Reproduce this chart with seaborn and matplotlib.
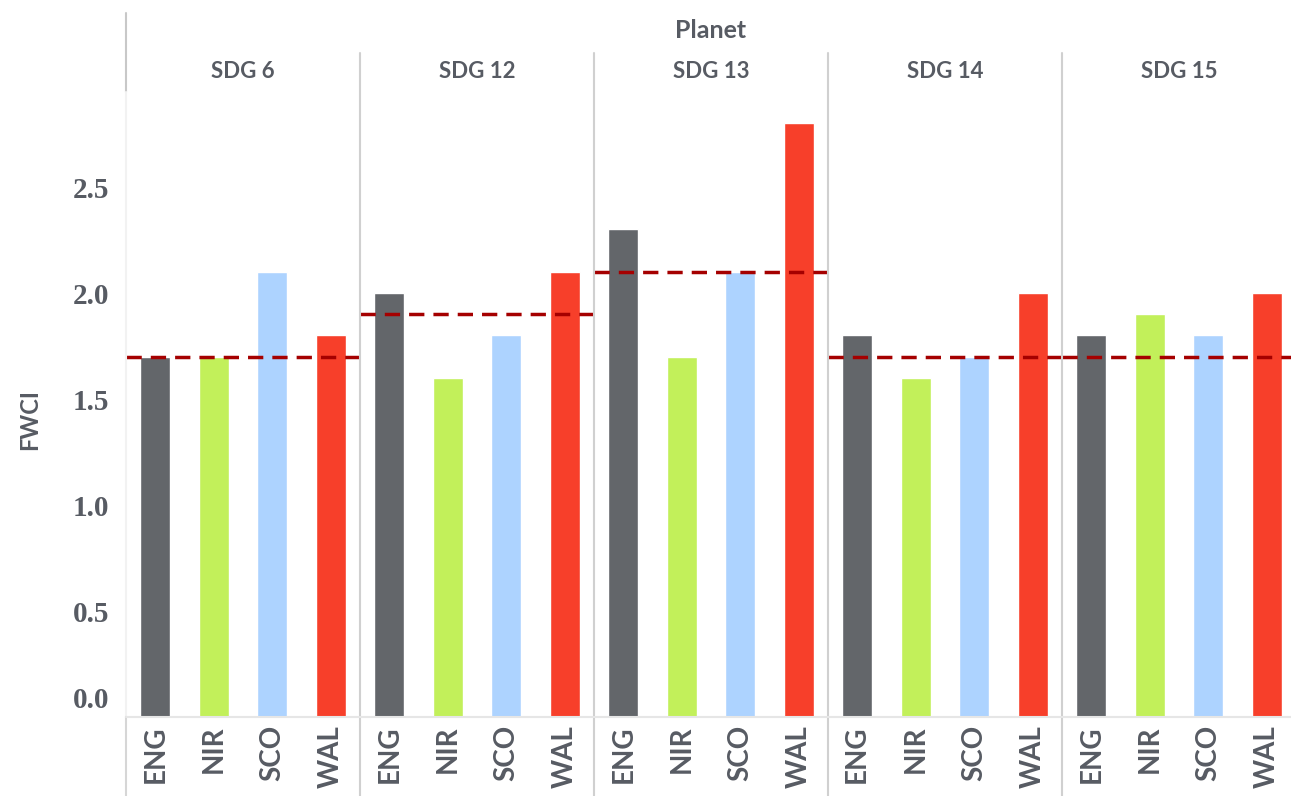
import numpy as np
import pandas as pd
import matplotlib
matplotlib.use("Agg")
import matplotlib.pyplot as plt
import matplotlib.transforms as mtransforms
import seaborn as sns
from matplotlib.lines import Line2D

# ---- data ----
group_title = "Planet"
sdgs = ["SDG 6", "SDG 12", "SDG 13", "SDG 14", "SDG 15"]
countries = ["ENG", "NIR", "SCO", "WAL"]
eng = [1.7, 2.0, 2.3, 1.8, 1.8]
nir = [1.7, 1.6, 1.7, 1.6, 1.9]
sco = [2.1, 1.8, 2.1, 1.7, 1.8]
wal = [1.8, 2.1, 2.8, 2.0, 2.0]
uk_avg = [1.7, 1.9, 2.1, 1.7, 1.7]
y_ticks = [0.0, 0.5, 1.0, 1.5, 2.0, 2.5]
y_label = "FWCI"

colors = {"ENG": "#63666a", "NIR": "#c2f05a", "SCO": "#add3ff", "WAL": "#f73f2a"}

rows = []
for i, s in enumerate(sdgs):
    for c, vals in zip(countries, [eng, nir, sco, wal]):
        rows.append({"sdg": s, "country": c, "fwci": vals[i]})
df = pd.DataFrame(rows)

sns.set_theme(style="white")
plt.rcParams["font.family"] = ["Lato", "DejaVu Sans"]

W, H = 1291, 796
fig = plt.figure(figsize=(W / 100, H / 100), dpi=100)

x0 = 126
pw = 234
y_bot = 717
y_top = 92
txt_col = "#575b63"
ymax = (y_bot - y_top) / 212.0

for i, s in enumerate(sdgs):
    ax = fig.add_axes([(x0 + i * pw) / W, (H - y_bot) / H, pw / W, (y_bot - y_top) / H])
    sub = df[df["sdg"] == s]
    sns.barplot(data=sub, x="country", y="fwci", hue="country", order=countries,
                hue_order=countries, palette=colors, width=0.51, legend=False,
                ax=ax, saturation=1, errorbar=None)
    ax.axhline(uk_avg[i], color="#a50000", lw=2.5, ls=(0, (4.4, 2.6)), zorder=5)
    ax.set_xlim(-0.5, 3.5)
    ax.set_ylim(0, ymax)
    ax.set_xlabel("")
    ax.set_ylabel("")
    for sp in ax.spines.values():
        sp.set_visible(False)
    ax.set_facecolor("none")
    ax.tick_params(axis="x", length=0, pad=6, labelrotation=90, labelsize=20, labelcolor=txt_col)
    for lab in ax.get_xticklabels():
        lab.set_va("top")
        lab.set_fontweight("bold")
    if i == 0:
        ax.set_yticks(y_ticks)
        ax.set_yticklabels([f"{v:.1f}" for v in y_ticks], family="Liberation Serif",
                           fontweight="bold", fontsize=21, color=txt_col)
        ax.tick_params(axis="y", length=0, pad=12)
        lab0 = ax.get_yticklabels()[0]
        lab0.set_transform(lab0.get_transform() +
                           mtransforms.ScaledTranslation(0, 20 / 100, fig.dpi_scale_trans))
    else:
        ax.set_yticks([])
    fig.text((x0 + i * pw + pw / 2) / W, 1 - 72 / H, s, ha="center", va="center",
             fontsize=16, color=txt_col, fontweight="bold")

fig.text((x0 + 2.5 * pw) / W, 1 - 31 / H, group_title, ha="center", va="center",
         fontsize=18, color=txt_col, fontweight="bold")
fig.text(30 / W, 1 - 420 / H, y_label, rotation=90, ha="center", va="center",
         fontsize=17, color=txt_col, fontweight="bold")

def fline(xs, ys, color, lw):
    fig.add_artist(Line2D([x / W for x in xs], [1 - y / H for y in ys],
                          transform=fig.transFigure, color=color, lw=lw))

fline([x0, x0], [13, 92], "#c8c8c8", 1.5)
fline([x0, x0], [92, 717], "#f2f2f2", 1.5)
fline([x0, x0], [717, 796], "#d6d6d6", 1.5)
for k in range(1, 5):
    xx = x0 + k * pw
    fline([xx, xx], [53, 796], "#d0d0d0", 1.5)
fline([x0, W], [717, 717], "#e6e6e6", 1.5)

fig.savefig("out.png", dpi=100)
